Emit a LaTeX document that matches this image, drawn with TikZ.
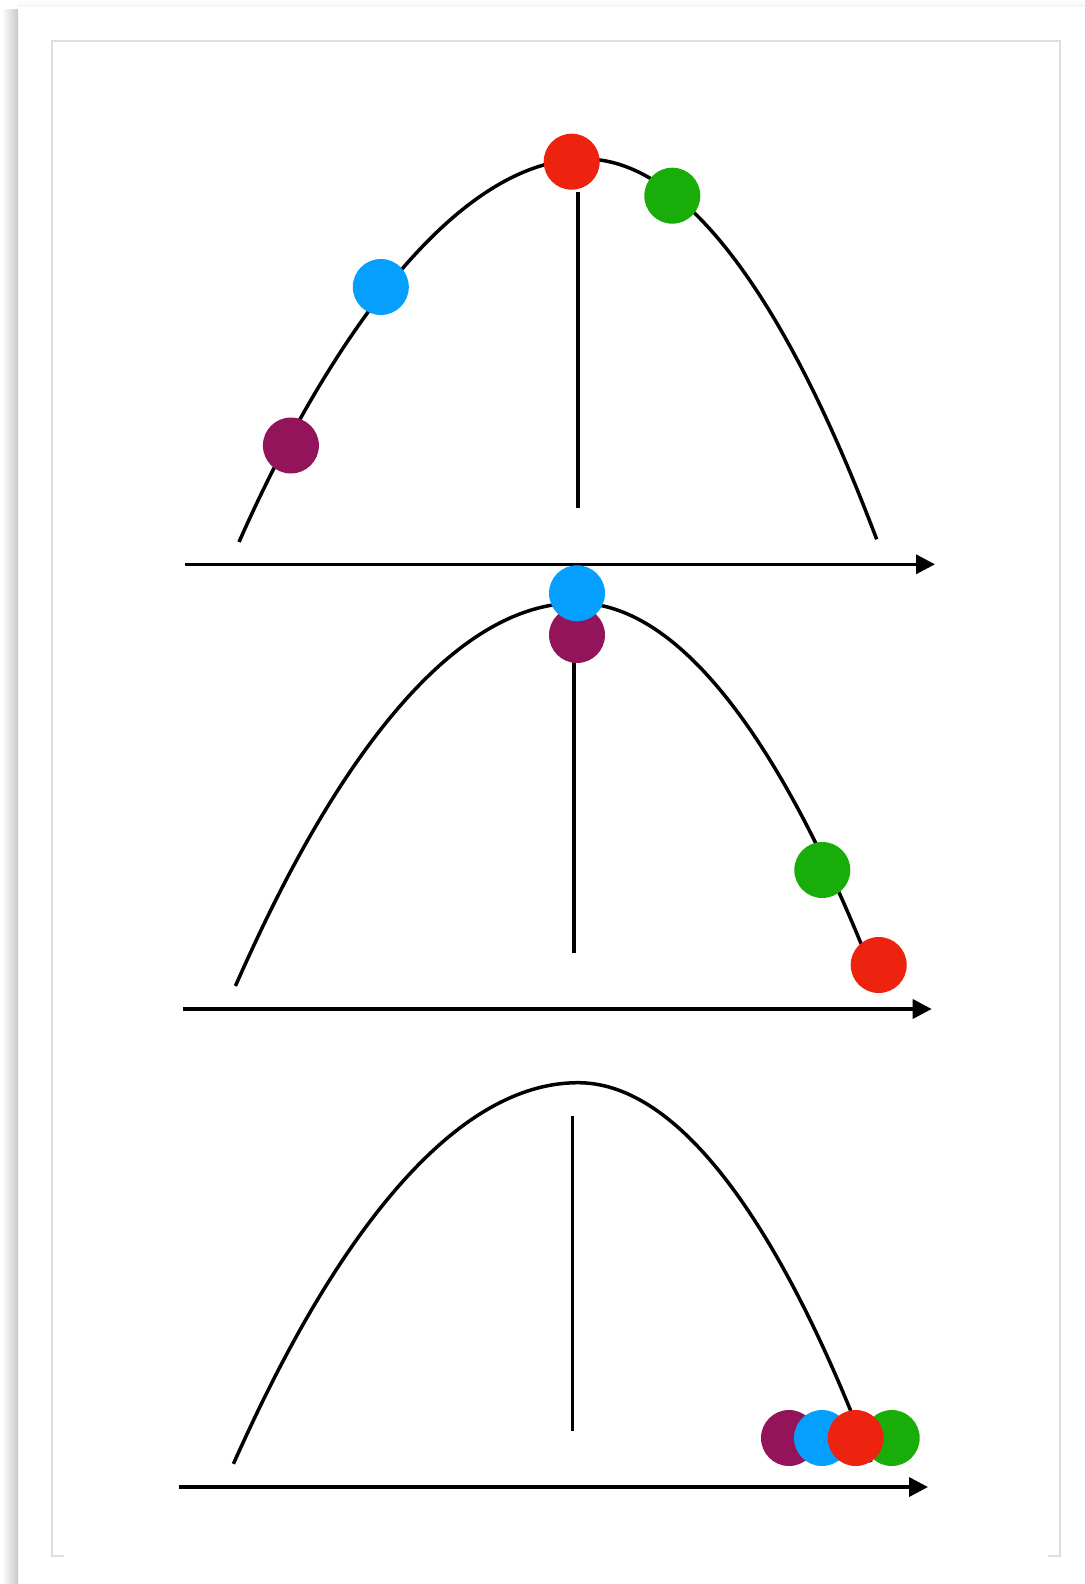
\documentclass[tikz,border=0pt]{standalone}
\usetikzlibrary{arrows.meta}
\definecolor{dred}{RGB}{238,35,15}
\definecolor{dgreen}{RGB}{25,173,10}
\definecolor{dblue}{RGB}{5,160,255}
\definecolor{dpurple}{RGB}{147,20,90}
\tikzset{
  dot/.style={circle,inner sep=0pt,minimum size=28pt,draw=none,fill=#1},
  curveline/.style={line width=1.75pt,black},
  axisline/.style={line width=1.8pt,black,-{Triangle[length=9.5pt,width=9.5pt]}},
  stem/.style={line width=1.75pt,black},
  framel/.style={line width=1pt,black!13}
}
\begin{document}
\begin{tikzpicture}[x=0.5pt,y=-0.5pt]
\useasboundingbox (0,0) rectangle (1085,1584);
\fill[white] (0,0) rectangle (1085,1584);
% page shadow
\shade[left color=white,right color=black!22] (2,10) rectangle (18,1584);
\shade[top color=white,bottom color=black!5] (18,0) rectangle (1085,7);
% frame
\draw[framel] (1048,1556) -- (1060,1556) -- (1060,41) -- (52,41) -- (52,1556) -- (64,1556);

% ---------- panel 1 ----------
\coordinate (a1s) at (185,564.3);
\coordinate (a1e) at (935,564.3);
\draw[axisline] (a1s) -- (a1e);
\coordinate (c1l) at (239,542);
\coordinate (c1p) at (585,159);
\coordinate (c1r) at (876.7,539.3);
\draw[curveline] (c1l) .. controls (315,370) and (445,159) .. (c1p) parabola (c1r);
\coordinate (v1t) at (578,192);
\coordinate (v1b) at (578,508);
\draw[stem] (v1t) -- (v1b);
\node[dot=dpurple] (p1) at (290.9,445.5) {};
\node[dot=dblue] (b1) at (380.8,287) {};
\node[dot=dgreen] (g1) at (672.3,195.7) {};
\node[dot=dred] (r1) at (571.7,161.7) {};

% ---------- panel 2 ----------
\coordinate (a2s) at (182.8,1009);
\coordinate (a2e) at (931.7,1009);
\draw[axisline] (a2s) -- (a2e);
\coordinate (c2l) at (235.4,986);
\coordinate (c2p) at (577,603);
\coordinate (c2r) at (878,986);
\draw[curveline] (c2l) parabola bend (c2p) (c2r);
\coordinate (v2t) at (573.8,661.7);
\coordinate (v2b) at (573.8,952.6);
\draw[stem] (v2t) -- (v2b);
\node[dot=dpurple] (p2) at (577,635) {};
\node[dot=dblue] (b2) at (577,593.3) {};
\node[dot=dgreen] (g2) at (822.3,870) {};
\node[dot=dred] (r2) at (878.7,965) {};

% ---------- panel 3 ----------
\coordinate (a3s) at (178.8,1487);
\coordinate (a3e) at (928,1487);
\draw[axisline] (a3s) -- (a3e);
\coordinate (c3l) at (233.4,1463.8);
\coordinate (c3p) at (578,1082.7);
\coordinate (c3r) at (871,1462);
\draw[curveline] (c3l) parabola bend (c3p) (c3r);
\coordinate (v3t) at (572.5,1116);
\coordinate (v3b) at (572.5,1430.5);
\draw[stem] (v3t) -- (v3b);
\node[dot=dpurple] (p3) at (789,1438) {};
\node[dot=dblue] (b3) at (822,1438) {};
\node[dot=dgreen] (g3) at (891.7,1438) {};
\node[dot=dred] (r3) at (855.7,1438) {};
\end{tikzpicture}
\end{document}
